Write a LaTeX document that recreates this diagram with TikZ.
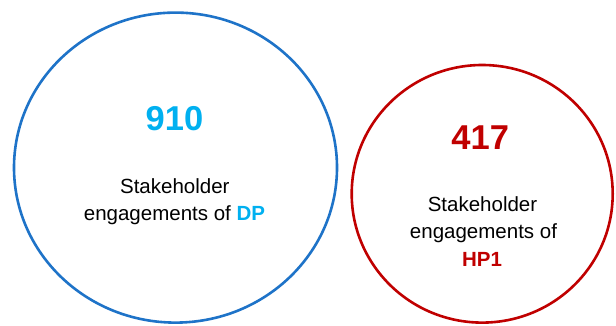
\documentclass[tikz,border=0pt]{standalone}
\usepackage{fontspec}
\setmainfont{Liberation Sans}
\usetikzlibrary{shapes.geometric}
\definecolor{ringblue}{RGB}{30,115,200}
\definecolor{numcyan}{RGB}{0,176,240}
\definecolor{darkred}{RGB}{192,0,0}
\begin{document}
\begin{tikzpicture}[x=1pt,y=-1pt,
  ring/.style={draw, ellipse, line width=2.6pt, inner sep=0pt},
  bignum/.style={anchor=base, inner sep=0pt, font=\fontsize{34.5}{40}\selectfont\bfseries},
  caption/.style={anchor=base, inner sep=0pt, font=\fontsize{20.5}{24}\selectfont}]
  \useasboundingbox (0,0) rectangle (616,325);
  % left ring: DP
  \node[ring, draw=ringblue, minimum width=323pt, minimum height=310pt] (dp) at (175.5,167.6) {};
  \node[bignum, text=numcyan] (dpnum) at (174.5,130) {910};
  \node[caption] (dpl1) at (174.8,193.3) {Stakeholder};
  \node[caption] (dpl2) at (174.5,220.7) {engagements of \textcolor{numcyan}{\bfseries DP}};
  % right ring: HP1
  \node[ring, draw=darkred, minimum width=261pt, minimum height=257.6pt] (hp) at (482.2,193.8) {};
  \node[bignum, text=darkred] (hpnum) at (480.2,149.3) {417};
  \node[caption] (hpl1) at (482.5,211.7) {Stakeholder};
  \node[caption] (hpl2) at (483.5,238.3) {engagements of};
  \node[caption, text=darkred, font=\fontsize{20.5}{24}\selectfont\bfseries] (hpl3) at (482,266) {HP1};
\end{tikzpicture}
\end{document}
